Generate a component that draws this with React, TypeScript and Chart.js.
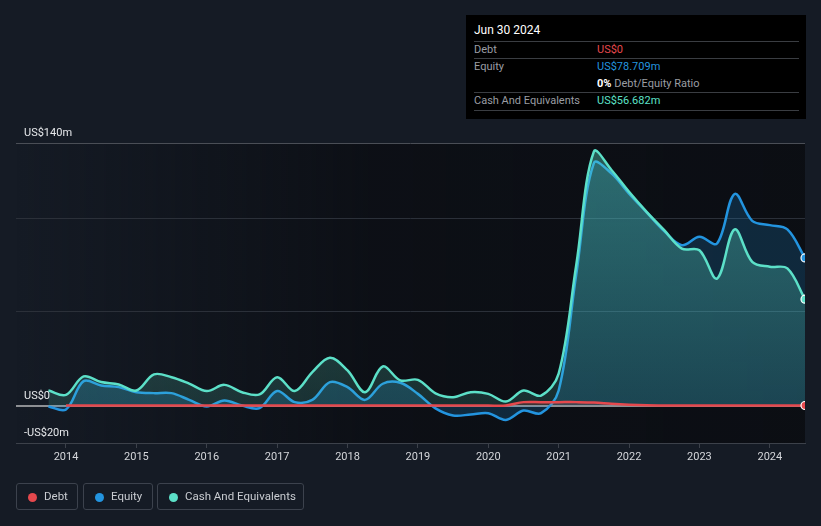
import React, { useEffect, useRef } from 'react';
import { Chart, registerables } from 'chart.js';
Chart.register(...registerables);

// Quarter-end dates as decimal years
const dates = [
  2013.75,
  2014.0, 2014.25, 2014.5, 2014.75,
  2015.0, 2015.25, 2015.5, 2015.75,
  2016.0, 2016.25, 2016.5, 2016.75,
  2017.0, 2017.25, 2017.5, 2017.75,
  2018.0, 2018.25, 2018.5, 2018.75,
  2019.0, 2019.25, 2019.5, 2019.75,
  2020.0, 2020.25, 2020.5, 2020.75,
  2021.0, 2021.25, 2021.5, 2021.75,
  2022.0, 2022.25, 2022.5, 2022.75,
  2023.0, 2023.25, 2023.5, 2023.75,
  2024.0, 2024.25, 2024.5,
];

// US$ millions
const debt: (number | null)[] = [
  null,
  0, 0, 0, 0,
  0, 0, 0, 0,
  0, 0, 0, 0,
  0, 0, 0, 0,
  0, 0, 0, 0,
  0, 0, 0, 0,
  0, 0, 1.8, 1.8,
  1.8, 1.8, 1.6, 0.9,
  0.4, 0.1, 0, 0,
  0, 0, 0, 0,
  0, 0, 0,
];

const equity = [
  -0.5,
  -2.1, 13, 10.7, 9.8,
  7.1, 6.6, 6.6, 3.0,
  -0.5, 2.7, 0, -1.4,
  7.7, 1.8, 3.0, 12.5,
  9.8, 3.0, 11.6, 12.1,
  6.2, -1.5, -5.3, -4.8,
  -4.1, -7.7, -2.7, -4.1,
  8, 70, 129.3, 123.8,
  113, 103, 93, 85.5,
  90, 86.4, 112.8, 98.5,
  96.2, 93.9, 78.709,
];

const cash = [
  8.0,
  5.7, 15.5, 12.5, 11.2,
  8.0, 16.6, 15.1, 11.7,
  7.7, 11.0, 7.1, 5.9,
  15.1, 7.7, 17.8, 25.5,
  18.7, 7.1, 20.8, 13.4,
  13.7, 6.5, 4.4, 7.1,
  6.2, 2.1, 8.0, 5.3,
  17, 75, 135.4, 125.6,
  114, 103.3, 93.5, 83.7,
  82.8, 67.7, 93.9, 76.6,
  74, 73.1, 56.682,
];

const yearTicks = [2014, 2015, 2016, 2017, 2018, 2019, 2020, 2021, 2022, 2023, 2024];
const yGridValues = [-20, 0, 50, 100, 140];
const yLabelValues = [140, 0, -20];
const yLabelText = ['US$140m', 'US$0', '-US$20m'];

const X_MIN = 2013.2896;
const X_MAX = 2024.5;

const DEBT_C = '#e5484d';
const EQUITY_C = '#2394df';
const CASH_C = '#5ce0c8';
const FONT = 'Roboto, "Noto Sans", sans-serif';

const bgPlugin = {
  id: 'plotBg',
  beforeDraw(chart: any) {
    const { ctx, chartArea: a } = chart;
    const g = ctx.createLinearGradient(a.left, 0, a.right, 0);
    g.addColorStop(0, 'rgba(10,12,17,0)');
    g.addColorStop(0.45, 'rgba(10,12,17,0.75)');
    g.addColorStop(1, 'rgba(10,12,17,0.85)');
    ctx.save();
    ctx.fillStyle = g;
    ctx.fillRect(a.left, a.top, a.right - a.left, a.bottom - a.top);
    ctx.restore();
  },
};

const yLabelPlugin = {
  id: 'yLabels',
  afterDatasetsDraw(chart: any) {
    const { ctx, chartArea: a, scales } = chart;
    ctx.save();
    ctx.font = `11px ${FONT}`;
    ctx.fillStyle = '#e6e8eb';
    ctx.textAlign = 'left';
    ctx.textBaseline = 'alphabetic';
    yLabelValues.forEach((v, i) => {
      const py = scales.y.getPixelForValue(v);
      ctx.fillText(yLabelText[i], a.left + 8, py - 7);
    });
    ctx.restore();
  },
};

export default function App() {
  const ref = useRef<HTMLCanvasElement>(null);

  useEffect(() => {
    const canvas = ref.current!;
    const last = dates.length - 1;
    const endPoint = (ctx: any) => (ctx.dataIndex === last ? 4 : 0);
    const chart = new Chart(canvas, {
      type: 'line',
      data: {
        datasets: [
          {
            label: 'Debt',
            data: dates.map((d, i) => ({ x: d, y: debt[i] })) as any,
            borderColor: DEBT_C,
            backgroundColor: 'rgba(229,72,77,0.18)',
            fill: 'origin',
            borderWidth: 2.5,
            tension: 0.35,
            pointRadius: endPoint,
            pointBackgroundColor: DEBT_C,
            pointBorderColor: '#ffffff',
            pointBorderWidth: 1.2,
            order: 0,
          },
          {
            label: 'Cash And Equivalents',
            data: dates.map((d, i) => ({ x: d, y: cash[i] })) as any,
            borderColor: CASH_C,
            backgroundColor: (c: any) => {
              const ch = c.chart;
              const a = ch.chartArea;
              if (!a) return 'rgba(92,224,200,0.25)';
              const g = ch.ctx.createLinearGradient(0, a.top, 0, a.bottom);
              g.addColorStop(0, 'rgba(92,224,200,0.38)');
              g.addColorStop(1, 'rgba(92,224,200,0.12)');
              return g;
            },
            fill: 'origin',
            borderWidth: 2.5,
            tension: 0.35,
            pointRadius: endPoint,
            pointBackgroundColor: CASH_C,
            pointBorderColor: '#ffffff',
            pointBorderWidth: 1.2,
            order: 1,
          },
          {
            label: 'Equity',
            data: dates.map((d, i) => ({ x: d, y: equity[i] })) as any,
            borderColor: EQUITY_C,
            backgroundColor: 'rgba(35,148,223,0.2)',
            fill: 'origin',
            borderWidth: 2.5,
            tension: 0.35,
            pointRadius: endPoint,
            pointBackgroundColor: EQUITY_C,
            pointBorderColor: '#ffffff',
            pointBorderWidth: 1.2,
            order: 2,
          },
        ],
      },
      options: {
        animation: false,
        responsive: false,
        maintainAspectRatio: false,
        layout: { padding: { left: 16, right: 16, top: 143, bottom: 53 } },
        plugins: { legend: { display: false }, tooltip: { enabled: false } },
        scales: {
          x: {
            type: 'linear',
            min: X_MIN,
            max: X_MAX,
            afterBuildTicks: (s: any) => {
              s.ticks = yearTicks.map((v) => ({ value: v }));
            },
            afterFit: (s: any) => {
              s.height = 30;
            },
            grid: { drawOnChartArea: false, drawTicks: true, tickLength: 5, tickColor: '#3c414a' },
            border: { display: true, color: '#3c414a' },
            ticks: {
              color: '#d4d6da',
              font: { family: FONT, size: 11 },
              padding: 3,
              maxRotation: 0,
              autoSkip: false,
              callback: (v: any) => String(v),
            },
          },
          y: {
            min: -20,
            max: 140,
            afterBuildTicks: (s: any) => {
              s.ticks = yGridValues.map((v) => ({ value: v }));
            },
            afterFit: (s: any) => {
              s.width = 0;
            },
            ticks: { display: false },
            border: { display: false },
            grid: {
              drawTicks: false,
              color: (c: any) => {
                const v = c.tick?.value;
                if (v === 0) return '#8d8f93';
                if (v === 140) return '#4a4e56';
                if (v === -20) return '#3c414a';
                return '#2b3039';
              },
              lineWidth: (c: any) => (c.tick?.value === 0 ? 2 : 1),
            },
          },
        },
      },
      plugins: [bgPlugin, yLabelPlugin],
    });
    return () => chart.destroy();
  }, []);

  const rowLine = { position: 'absolute' as const, left: 8, right: 7, height: 1, background: '#3a3d42' };
  const lbl = { position: 'absolute' as const, left: 8, color: '#9a9da3' };
  const val = { position: 'absolute' as const, left: 131 };

  const legendItems = [
    { name: 'Debt', color: DEBT_C, left: 16, width: 62 },
    { name: 'Equity', color: EQUITY_C, left: 83, width: 70 },
    { name: 'Cash And Equivalents', color: CASH_C, left: 157, width: 147 },
  ];

  return (
    <div
      style={{
        position: 'fixed',
        left: 0,
        top: 0,
        width: 821,
        height: 526,
        background: '#151b25',
        fontFamily: FONT,
        overflow: 'hidden',
      }}
    >
      <canvas ref={ref} width={821} height={526} style={{ position: 'absolute', left: 0, top: 0, width: 821, height: 526 }} />

      <div
        style={{
          position: 'absolute',
          left: 466,
          top: 15,
          width: 340,
          height: 104,
          background: '#000000',
          fontSize: 11,
          lineHeight: '13px',
        }}
      >
        <div style={{ position: 'absolute', left: 8, top: 9, color: '#ffffff', fontSize: 12 }}>Jun 30 2024</div>
        <div style={{ ...rowLine, top: 26 }} />
        <div style={{ ...lbl, top: 28 }}>Debt</div>
        <div style={{ ...val, top: 28, color: DEBT_C }}>US$0</div>
        <div style={{ ...rowLine, top: 43 }} />
        <div style={{ ...lbl, top: 45 }}>Equity</div>
        <div style={{ ...val, top: 45, color: EQUITY_C }}>US$78.709m</div>
        <div style={{ ...val, top: 62, color: '#9a9da3' }}>
          <span style={{ color: '#ffffff', fontWeight: 700 }}>0%</span> Debt/Equity Ratio
        </div>
        <div style={{ ...rowLine, top: 77 }} />
        <div style={{ ...lbl, top: 79 }}>Cash And Equivalents</div>
        <div style={{ ...val, top: 79, color: CASH_C }}>US$56.682m</div>
        <div style={{ ...rowLine, top: 95 }} />
      </div>

      {legendItems.map((it) => (
        <div
          key={it.name}
          style={{
            position: 'absolute',
            left: it.left,
            top: 483,
            width: it.width,
            height: 27,
            boxSizing: 'border-box',
            border: '1px solid #3c424d',
            borderRadius: 3,
            fontSize: 11.5,
            color: '#c9ccd1',
          }}
        >
          <span
            style={{
              position: 'absolute',
              left: 11,
              top: 8.5,
              width: 9,
              height: 9,
              borderRadius: '50%',
              background: it.color,
            }}
          />
          <span style={{ position: 'absolute', left: 27, top: 5, lineHeight: '15px' }}>{it.name}</span>
        </div>
      ))}
    </div>
  );
}
